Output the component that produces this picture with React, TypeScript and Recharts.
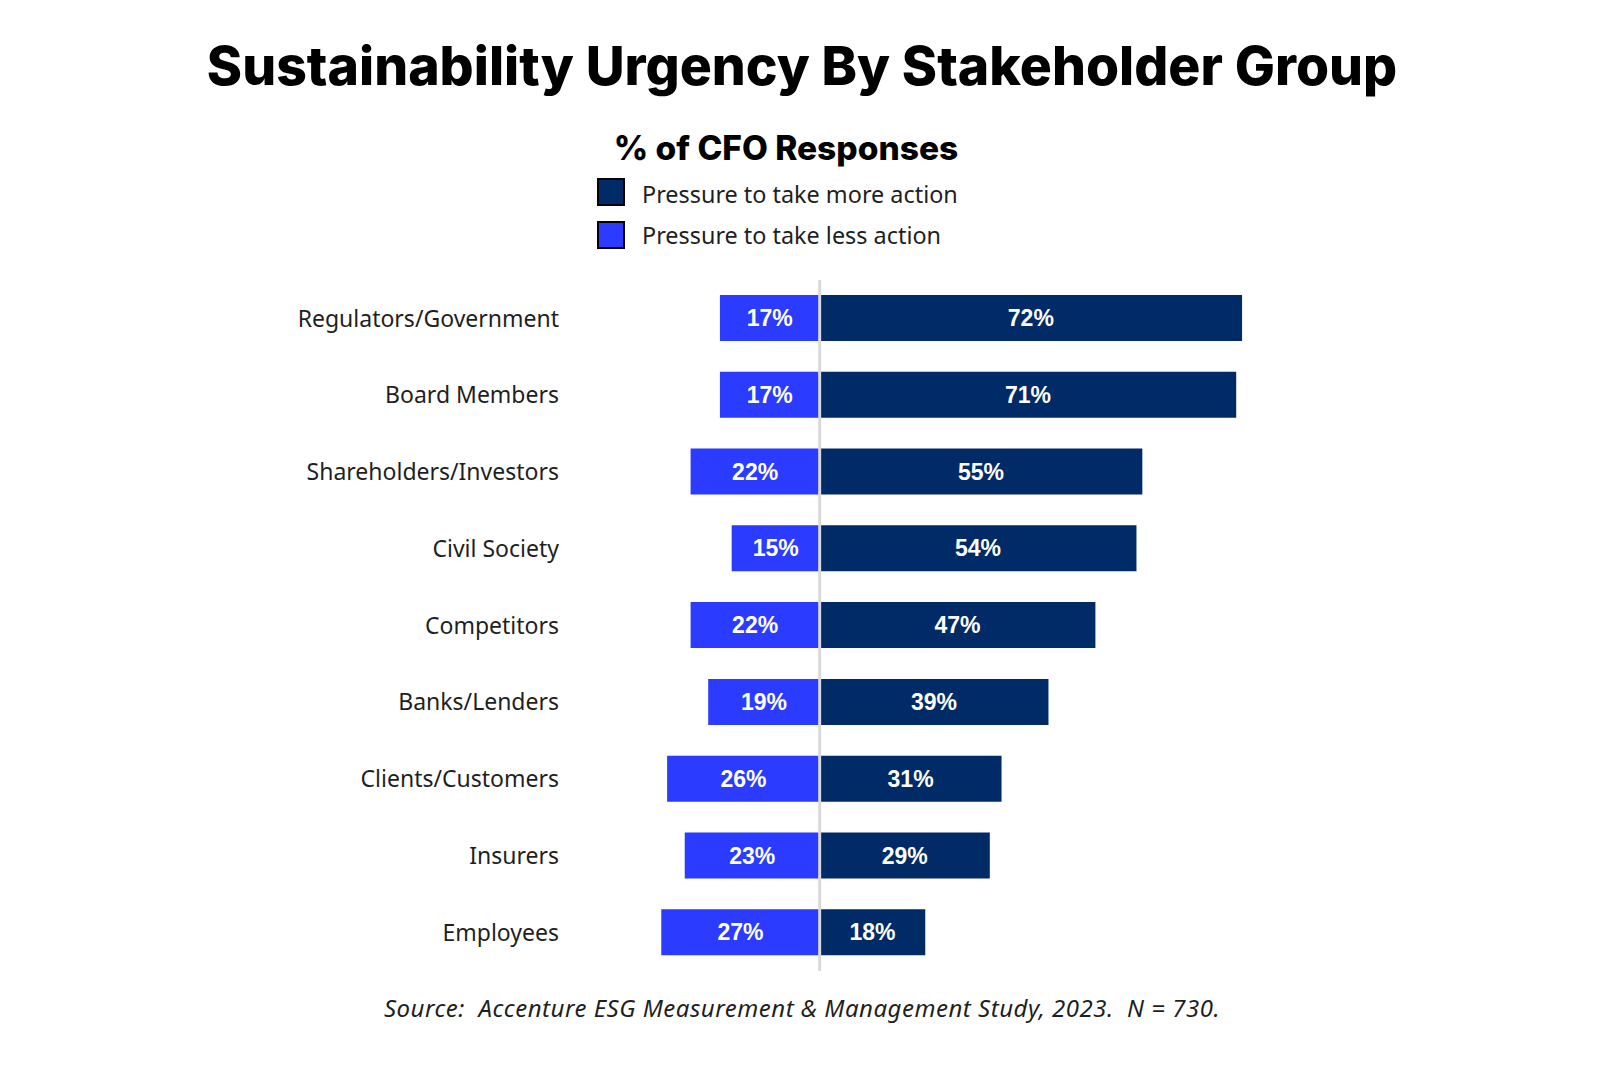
import { BarChart, Bar, XAxis, YAxis, ReferenceLine, LabelList } from "recharts";

const categories = [
  "Regulators/Government",
  "Board Members",
  "Shareholders/Investors",
  "Civil Society",
  "Competitors",
  "Banks/Lenders",
  "Clients/Customers",
  "Insurers",
  "Employees",
];
const moreAction = [72, 71, 55, 54, 47, 39, 31, 29, 18];
const lessAction = [17, 17, 22, 15, 22, 19, 26, 23, 27];

const DARK = "#002B66";
const BRIGHT = "#2B3BFF";

// less action goes to the left of zero
const rows = categories.map((name, i) => ({
  name,
  more: moreAction[i],
  less: -lessAction[i],
}));

const pct = (v: any) => `${Math.abs(Number(v))}%`;

export default function App() {
  return (
    <div
      style={{
        position: "absolute",
        left: 0,
        top: 0,
        width: 1600,
        height: 1081,
        background: "#fff",
      }}
    >
      <BarChart
        width={1600}
        height={1081}
        data={rows}
        layout="vertical"
        stackOffset="sign"
        margin={{ top: 280, right: 311, bottom: 110, left: 0 }}
      >
        <XAxis type="number" domain={[-40, 80]} hide />
        <YAxis
          type="category"
          dataKey="name"
          width={585}
          axisLine={false}
          tickLine={false}
          tickSize={0}
          tickMargin={26}
          tick={{ fontSize: 23, fill: "#1f1f1f", fontFamily: "Noto Sans" }}
        />
        <Bar dataKey="less" stackId="a" fill={BRIGHT} barSize={46} isAnimationActive={false}>
          <LabelList
            dataKey="less"
            position="center"
            formatter={pct}
            fill="#fff"
            fontSize={23}
            fontWeight={700}
            fontFamily="Liberation Sans"
          />
        </Bar>
        <Bar dataKey="more" stackId="a" fill={DARK} barSize={46} isAnimationActive={false}>
          <LabelList
            dataKey="more"
            position="center"
            formatter={pct}
            fill="#fff"
            fontSize={23}
            fontWeight={700}
            fontFamily="Liberation Sans"
          />
        </Bar>
        <ReferenceLine x={0} stroke="#d9d9d9" strokeWidth={3} />
      </BarChart>

      <svg
        width={1600}
        height={1081}
        style={{ position: "absolute", left: 0, top: 0, pointerEvents: "none" }}
      >
        <text
          x={802}
          y={85}
          textAnchor="middle"
          fontFamily="Inter"
          fontWeight={800}
          fontSize={53.5}
          fill="#000"
        >
          Sustainability Urgency By Stakeholder Group
        </text>
        <text
          x={786}
          y={160}
          textAnchor="middle"
          fontFamily="Inter"
          fontWeight={800}
          fontSize={33.5}
          fill="#000"
        >
          % of CFO Responses
        </text>
        <rect x={598} y={179} width={26} height={26} fill={DARK} stroke="#000" strokeWidth={2} />
        <text x={642} y={203} fontFamily="Noto Sans" fontSize={23.4} fill="#1f1f1f">
          Pressure to take more action
        </text>
        <rect x={598} y={222} width={26} height={26} fill={BRIGHT} stroke="#000" strokeWidth={2} />
        <text x={642} y={244} fontFamily="Noto Sans" fontSize={23.4} fill="#1f1f1f">
          Pressure to take less action
        </text>
        <text
          x={802}
          y={1017}
          textAnchor="middle"
          fontFamily="Noto Sans"
          fontStyle="italic"
          fontSize={24}
          letterSpacing={0.5}
          fill="#1f1f1f"
          style={{ whiteSpace: "pre" }}
        >
          Source:  Accenture ESG Measurement &amp; Management Study, 2023.  N = 730.
        </text>
      </svg>
    </div>
  );
}
